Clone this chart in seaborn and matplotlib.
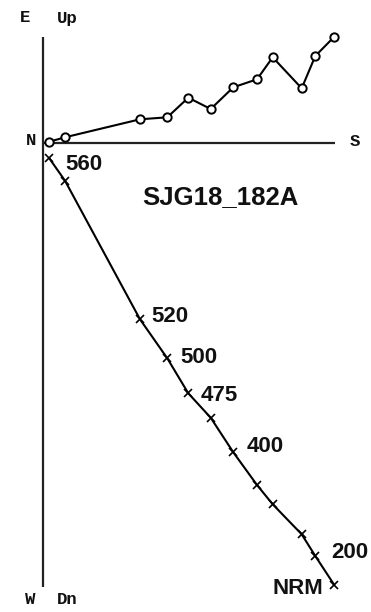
import matplotlib
matplotlib.use("Agg")
import matplotlib.pyplot as plt
import seaborn as sns
import pandas as pd

# Demagnetization steps (NRM first), vector end-point components
steps = ["NRM", "200", "250", "300", "350", "400", "450", "475", "500", "520", "540", "560"]
shown = ["NRM", "200", "", "", "", "400", "", "475", "500", "520", "", "560"]
north_south = [29.13, 27.23, 25.87, 22.97, 21.40, 19.03, 16.77, 14.53, 12.43, 9.70, 2.20, 0.63]
up_east = [10.63, 8.70, 5.47, 8.57, 6.37, 5.57, 3.40, 4.53, 2.57, 2.37, 0.57, 0.13]
down_west = [-44.20, -41.30, -39.13, -36.13, -34.20, -30.93, -27.47, -25.03, -21.53, -17.63, -3.77, -1.53]

df = pd.DataFrame({"step": steps, "label": shown, "ns": north_south,
                   "vert": up_east, "horiz": down_west})

sns.set_theme(style="white")
plt.rcParams["font.family"] = ["Liberation Sans", "DejaVu Sans"]

fig = plt.figure(figsize=(3.71, 6.12), dpi=100)
ax = fig.add_axes([0, 0, 1, 1])
ax.set_xlim(-4.3, 32.8)
ax.set_ylim(-46.9, 14.3)
ax.set_aspect("equal")
ax.axis("off")

# Projection axes
axis_col = "#222222"
ax.plot([0, 0], [df["vert"].max(), df["horiz"].min() - 0.2], color=axis_col, lw=1.6,
        solid_capstyle="butt", zorder=1)
ax.plot([0, df["ns"].max() + 0.1], [0, 0], color=axis_col, lw=1.6,
        solid_capstyle="butt", zorder=1)

# Vertical-plane projection (open circles)
sns.lineplot(data=df, x="ns", y="vert", sort=False, estimator=None, ax=ax,
             color="black", lw=1.5, marker="o", markersize=6,
             markerfacecolor="white", markeredgecolor="black", markeredgewidth=1.4,
             zorder=3)

# Horizontal-plane projection (crosses)
sns.lineplot(data=df, x="ns", y="horiz", sort=False, estimator=None, ax=ax,
             color="black", lw=1.5, marker="x", markersize=6,
             markeredgecolor="black", markeredgewidth=1.2, zorder=3)

# Temperature step labels
offsets = {"560": (1.6, -0.6, "left"), "520": (1.1, 0.3, "left"),
           "500": (1.3, 0.1, "left"), "475": (1.2, -0.2, "left"),
           "400": (1.3, 0.6, "left"), "200": (1.6, 0.3, "left"),
           "NRM": (-1.1, -0.3, "right")}
for _, r in df.iterrows():
    if r["label"]:
        dx, dy, ha = offsets[r["label"]]
        ax.text(r["ns"] + dx, r["horiz"] + dy, r["label"], ha=ha, va="center",
                fontsize=16, fontweight="bold", color="#111111")

ax.text(17.7, -5.37, "SJG18_182A", ha="center", va="center",
        fontsize=18.5, fontweight="bold", color="#111111")

# Direction labels
mono = dict(family=["Liberation Mono", "DejaVu Sans Mono"], fontweight="bold",
            fontsize=12.5, ha="center", va="center", color="#111111")
ax.text(-1.8, 12.5, "E", **mono)
ax.text(2.4, 12.5, "Up", **mono)
ax.text(-1.2, 0.2, "N", **mono)
ax.text(31.2, 0.1, "S", **mono)
ax.text(-1.3, -45.7, "W", **mono)
ax.text(2.4, -45.7, "Dn", **mono)

fig.savefig("out.png", dpi=100, facecolor="white")
